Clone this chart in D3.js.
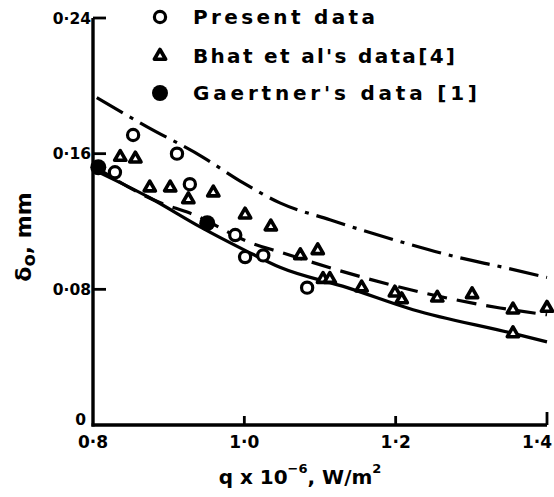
<!DOCTYPE html>
<html><head><meta charset="utf-8">
<script src="https://cdn.jsdelivr.net/npm/d3@7"></script>
<style>body{margin:0;background:#fff}svg{display:block}text{font-family:"DejaVu Sans",sans-serif;font-weight:bold;fill:#000}</style>
</head><body><div id="chart"></div>
<script>
// Data (q x 1e-6 W/m^2, delta0 mm)
const xTicks = [0.8, 1.0, 1.2, 1.4];
const xTickLabels = ["0·8", "1·0", "1·2", "1·4"];
const yTicks = [0, 0.08, 0.16, 0.24];
const yTickLabels = ["0", "0·08", "0·16", "0·24"];

const presentQ = [0.853, 0.911, 0.829, 0.928, 0.988, 1.001, 1.025, 1.083];
const presentD = [0.171, 0.160, 0.149, 0.142, 0.112, 0.099, 0.100, 0.081];

const bhatQ = [0.836, 0.856, 0.875, 0.902, 0.926, 0.959, 1.001, 1.035, 1.074, 1.097, 1.104, 1.113, 1.155, 1.199, 1.208, 1.255, 1.301, 1.355, 1.400, 1.355];
const bhatD = [0.158, 0.157, 0.140, 0.140, 0.133, 0.137, 0.124, 0.117, 0.100, 0.103, 0.086, 0.086, 0.081, 0.078, 0.074, 0.075, 0.077, 0.068, 0.069, 0.054];

const gaertnerQ = [0.807, 0.951];
const gaertnerD = [0.152, 0.119];

// Curves
const solidQ = [0.803, 0.875, 0.941, 1.001, 1.047, 1.136, 1.223, 1.355, 1.400];
const solidD = [0.150, 0.134, 0.117, 0.103, 0.093, 0.081, 0.068, 0.054, 0.049];
const dashedQ = [0.800, 0.889, 0.928, 1.011, 1.047, 1.126, 1.236, 1.338, 1.400];
const dashedD = [0.153, 0.131, 0.125, 0.107, 0.102, 0.091, 0.078, 0.069, 0.065];
const dashDotQ = [0.805, 0.871, 0.945, 0.994, 1.047, 1.113, 1.215, 1.281, 1.342, 1.400];
const dashDotD = [0.193, 0.176, 0.158, 0.144, 0.131, 0.121, 0.107, 0.099, 0.093, 0.087];

const legendLabels = ["Present data", "Bhat et al's data[4]", "Gaertner's data [1]"];

const W = 554, H = 497;
const svg = d3.select("#chart").append("svg").attr("width", W).attr("height", H);

const x = d3.scaleLinear().domain([0.8, 1.4]).range([93, 547]);
const y = d3.scaleLinear().domain([0, 0.24]).range([425, 18]);

const zip = (a, b) => a.map((v, i) => [v, b[i]]);

// Axes
const g = svg.append("g");
g.append("line").attr("x1", x(0.8)).attr("x2", x(0.8)).attr("y1", y(0.24)).attr("y2", y(0) + 1.5)
  .attr("stroke", "#000").attr("stroke-width", 3.4);
g.append("line").attr("x1", x(0.8) - 1.5).attr("x2", x(1.4)).attr("y1", y(0)).attr("y2", y(0))
  .attr("stroke", "#000").attr("stroke-width", 3.4);

yTicks.forEach((t, i) => {
  if (t > 0) g.append("line").attr("x1", x(0.8)).attr("x2", x(0.8) + 13).attr("y1", y(t)).attr("y2", y(t))
    .attr("stroke", "#000").attr("stroke-width", 2.8);
  g.append("text").attr("x", x(0.8) - (t === 0 ? 7 : 2)).attr("y", y(t) - (t === 0 ? 6 : 0)).attr("dy", "0.36em")
    .attr("text-anchor", "end").attr("font-size", 15.5).text(yTickLabels[i]);
});
xTicks.forEach((t, i) => {
  if (t > 0.8) g.append("line").attr("x1", x(t)).attr("x2", x(t)).attr("y1", y(0)).attr("y2", y(0) - (t === 1.4 ? 13 : 9))
    .attr("stroke", "#000").attr("stroke-width", 2.8);
  const last = t === 1.4;
  g.append("text").attr("x", last ? 552 : x(t)).attr("y", y(0) + 23).attr("text-anchor", last ? "end" : "middle")
    .attr("font-size", 17).attr("font-family", "Liberation Sans, Arial, sans-serif").text(xTickLabels[i]);
});

// Axis titles
const yt = svg.append("text").attr("transform", "translate(31,237) rotate(-90)").attr("text-anchor", "middle")
  .attr("font-size", 22);
yt.append("tspan").text("δ");
yt.append("tspan").attr("font-size", 18).attr("dy", 4).text("o");
yt.append("tspan").attr("dy", -4).text(", mm");

const xt = svg.append("text").attr("x", 300).attr("y", 484).attr("text-anchor", "middle").attr("font-size", 20);
xt.append("tspan").text("q x 10");
xt.append("tspan").attr("font-size", 13).attr("dy", -11).text("−6");
xt.append("tspan").attr("dy", 11).text(", W/m");
xt.append("tspan").attr("font-size", 13).attr("dy", -11).text("2");

// Curves
const line = d3.line().x(d => x(d[0])).y(d => y(d[1])).curve(d3.curveMonotoneX);
svg.append("path").datum(zip(solidQ, solidD)).attr("d", line).attr("fill", "none")
  .attr("stroke", "#000").attr("stroke-width", 3.2);
svg.append("path").datum(zip(dashedQ, dashedD)).attr("d", line).attr("fill", "none")
  .attr("stroke", "#000").attr("stroke-width", 3.2).attr("stroke-dasharray", "20 10");
svg.append("path").datum(zip(dashDotQ, dashDotD)).attr("d", line).attr("fill", "none")
  .attr("stroke", "#000").attr("stroke-width", 3.2).attr("stroke-dasharray", "30 8 4 8");

// Markers
const tri = d3.symbol().type(d3.symbolTriangle).size(55);
function triangle(sel) {
  sel.attr("d", tri).attr("fill", "#fff").attr("stroke", "#000").attr("stroke-width", 3.6).attr("stroke-linejoin", "round");
}
svg.append("g").selectAll("path").data(zip(bhatQ, bhatD)).join("path")
  .attr("transform", d => `translate(${x(d[0])},${y(d[1])})`).call(triangle);
svg.append("g").selectAll("circle").data(zip(presentQ, presentD)).join("circle")
  .attr("cx", d => x(d[0])).attr("cy", d => y(d[1])).attr("r", 5.6)
  .attr("fill", "#fff").attr("stroke", "#000").attr("stroke-width", 3.2);
svg.append("g").selectAll("circle").data(zip(gaertnerQ, gaertnerD)).join("circle")
  .attr("cx", d => x(d[0])).attr("cy", d => y(d[1])).attr("r", 8).attr("fill", "#000");

// Legend
const lg = svg.append("g");
const rows = [17, 56, 93];
const legendLen = [182, 262, 284];
lg.append("circle").attr("cx", 160).attr("cy", rows[0]).attr("r", 5.6).attr("fill", "#fff").attr("stroke", "#000").attr("stroke-width", 3.2);
lg.append("path").attr("transform", `translate(160,${rows[1]})`).call(triangle);
lg.append("circle").attr("cx", 160).attr("cy", rows[2]).attr("r", 8).attr("fill", "#000");
legendLabels.forEach((t, i) => {
  lg.append("text").attr("x", 193).attr("y", rows[i]).attr("dy", "0.36em").attr("font-size", 20)
    .attr("textLength", legendLen[i]).attr("lengthAdjust", "spacing").text(t);
});
</script></body></html>
